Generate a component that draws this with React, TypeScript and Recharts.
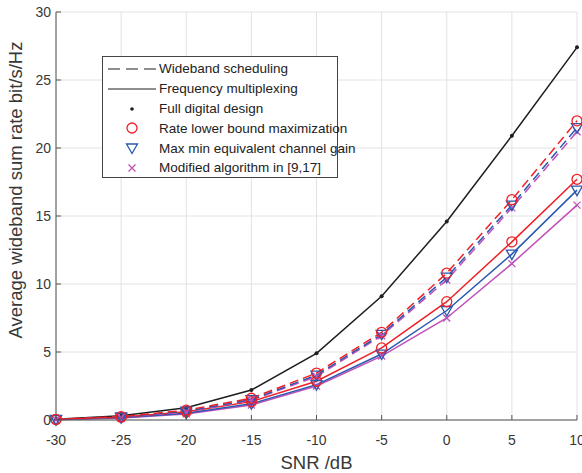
import React from 'react';
import { LineChart, Line, XAxis, YAxis, CartesianGrid } from 'recharts';

const SNR = [-30, -25, -20, -15, -10, -5, 0, 5, 10];
const FULL_DIGITAL = [0.05, 0.32, 0.9, 2.2, 4.9, 9.1, 14.6, 20.9, 27.4];
const RATE_WB = [0.05, 0.25, 0.72, 1.6, 3.45, 6.45, 10.8, 16.2, 22.0];
const MAXMIN_WB = [0.04, 0.22, 0.65, 1.5, 3.3, 6.3, 10.5, 15.8, 21.5];
const MOD_WB = [0.04, 0.2, 0.6, 1.45, 3.2, 6.2, 10.3, 15.6, 21.2];
const RATE_FM = [0.03, 0.2, 0.6, 1.35, 2.85, 5.3, 8.7, 13.1, 17.7];
const MAXMIN_FM = [0.03, 0.17, 0.5, 1.2, 2.6, 4.85, 8.05, 12.2, 16.9];
const MOD_FM = [0.02, 0.15, 0.45, 1.1, 2.5, 4.7, 7.5, 11.5, 15.8];

const X_TICKS = [-30, -25, -20, -15, -10, -5, 0, 5, 10];
const Y_TICKS = [0, 5, 10, 15, 20, 25, 30];

const LEGEND_ITEMS = [
  'Wideband scheduling',
  'Frequency multiplexing',
  'Full digital design',
  'Rate lower bound maximization',
  'Max min equivalent channel gain',
  'Modified algorithm in [9,17]',
];

const W = 582;
const H = 473;
const FONT = '"Liberation Sans", Arial, Helvetica, sans-serif';
const TEXT = '#383838';
const AXIS = '#555555';
const RED = '#ee2026';
const BLUE = '#2a59b0';
const MAGENTA = '#c050b8';
const BLACK = '#1e1e1e';
const DASH = '9 5';
const TICK_LEN = 5;

const data = SNR.map((snr, i) => ({
  snr,
  full: FULL_DIGITAL[i],
  rateWB: RATE_WB[i],
  maxminWB: MAXMIN_WB[i],
  modWB: MOD_WB[i],
  rateFM: RATE_FM[i],
  maxminFM: MAXMIN_FM[i],
  modFM: MOD_FM[i],
}));

// markers
const circleDot = (p: any) => (
  <circle key={p.key} cx={p.cx} cy={p.cy} r={5} fill="none" stroke={RED} strokeWidth={1.3} />
);
const triDot = (p: any) => (
  <path key={p.key} d={`M${p.cx - 5.5},${p.cy - 4} L${p.cx + 5.5},${p.cy - 4} L${p.cx},${p.cy + 5.5} Z`}
    fill="none" stroke={BLUE} strokeWidth={1.3} />
);
const crossDot = (p: any) => (
  <path key={p.key} d={`M${p.cx - 3.5},${p.cy - 3.5} L${p.cx + 3.5},${p.cy + 3.5} M${p.cx - 3.5},${p.cy + 3.5} L${p.cx + 3.5},${p.cy - 3.5}`}
    stroke={MAGENTA} strokeWidth={1.3} />
);
const blackDot = (p: any) => (
  <circle key={p.key} cx={p.cx} cy={p.cy} r={2} fill={BLACK} />
);

// inward ticks for the boxed axes
const BottomTick = (p: any) => (
  <g>
    <line x1={p.x} x2={p.x} y1={p.y} y2={p.y - TICK_LEN} stroke={AXIS} />
    <text x={p.x} y={p.y + 25} textAnchor="middle" fill={TEXT} fontSize={14} fontFamily={FONT}>
      {p.payload.value}
    </text>
  </g>
);
const TopTick = (p: any) => (
  <line x1={p.x} x2={p.x} y1={p.y} y2={p.y + TICK_LEN} stroke={AXIS} />
);
const LeftTick = (p: any) => (
  <g>
    <line x1={p.x} x2={p.x + TICK_LEN} y1={p.y} y2={p.y} stroke={AXIS} />
    <text x={p.x - 5} y={p.y + 5} textAnchor="end" fill={TEXT} fontSize={14} fontFamily={FONT}>
      {p.payload.value}
    </text>
  </g>
);
const RightTick = (p: any) => (
  <line x1={p.x} x2={p.x - TICK_LEN} y1={p.y} y2={p.y} stroke={AXIS} />
);

const YLabel = () => (
  <text x={22} y={190} transform="rotate(-90 22 190)" textAnchor="middle" fill={TEXT} fontSize={18.5} fontFamily={FONT}>
    Average wideband sum rate bit/s/Hz
  </text>
);

function LegendSample({ i }: { i: number }) {
  return (
    <svg width={50} height={20} style={{ display: 'block' }}>
      {i === 0 && <line x1={1} x2={49} y1={10} y2={10} stroke={BLACK} strokeWidth={1.2} strokeDasharray="12 6" />}
      {i === 1 && <line x1={1} x2={49} y1={10} y2={10} stroke={BLACK} strokeWidth={1.2} />}
      {i === 2 && <circle cx={25} cy={10} r={1.8} fill={BLACK} />}
      {i === 3 && <circle cx={25} cy={10} r={5} fill="none" stroke={RED} strokeWidth={1.3} />}
      {i === 4 && <path d="M19.5,6 L30.5,6 L25,15.5 Z" fill="none" stroke={BLUE} strokeWidth={1.3} />}
      {i === 5 && <path d="M21.5,6.5 L28.5,13.5 M21.5,13.5 L28.5,6.5" stroke={MAGENTA} strokeWidth={1.3} />}
    </svg>
  );
}

export default function App() {
  return (
    <div style={{ position: 'relative', width: W, height: H, background: '#fff' }}>
      <style>{'body{margin:0}'}</style>
      <LineChart width={W} height={H} data={data} margin={{ top: 12, right: 5, bottom: 0, left: 0 }}>
        <CartesianGrid stroke="#e2e2e2" horizontalValues={Y_TICKS} verticalValues={X_TICKS} />
        <XAxis dataKey="snr" type="number" domain={[-30, 10]} ticks={X_TICKS} height={53}
          tickSize={0} tickMargin={0} tickLine={false} axisLine={{ stroke: AXIS }} tick={<BottomTick />}
          interval={0}
          label={{ value: 'SNR /dB', position: 'insideBottom', offset: 4, fill: TEXT, fontSize: 18.5, fontFamily: FONT }} />
        <XAxis xAxisId="top" orientation="top" dataKey="snr" type="number" domain={[-30, 10]} ticks={X_TICKS}
          height={0} tickSize={0} tickMargin={0} tickLine={false} axisLine={{ stroke: AXIS }} tick={<TopTick />} interval={0} />
        <YAxis type="number" domain={[0, 30]} ticks={Y_TICKS} width={56} tickSize={0} tickMargin={0}
          tickLine={false} axisLine={{ stroke: AXIS }} tick={<LeftTick />} interval={0} label={<YLabel />} />
        <YAxis yAxisId="right" orientation="right" type="number" domain={[0, 30]} ticks={Y_TICKS} width={0}
          tickSize={0} tickMargin={0} tickLine={false} axisLine={{ stroke: AXIS }} tick={<RightTick />} interval={0} />

        <Line dataKey="full" stroke={BLACK} strokeWidth={1.5} dot={blackDot} isAnimationActive={false} />
        <Line dataKey="modFM" stroke={MAGENTA} strokeWidth={1.5} dot={crossDot} isAnimationActive={false} />
        <Line dataKey="maxminFM" stroke={BLUE} strokeWidth={1.5} dot={triDot} isAnimationActive={false} />
        <Line dataKey="rateFM" stroke={RED} strokeWidth={1.5} dot={circleDot} isAnimationActive={false} />
        <Line dataKey="modWB" stroke={MAGENTA} strokeWidth={1.5} strokeDasharray={DASH} dot={crossDot} isAnimationActive={false} />
        <Line dataKey="maxminWB" stroke={BLUE} strokeWidth={1.5} strokeDasharray={DASH} dot={triDot} isAnimationActive={false} />
        <Line dataKey="rateWB" stroke={RED} strokeWidth={1.5} strokeDasharray={DASH} dot={circleDot} isAnimationActive={false} />
      </LineChart>

      <div style={{
        position: 'absolute', left: 102, top: 56, width: 236, height: 122,
        border: '1px solid #444', background: '#fff', paddingTop: 2, boxSizing: 'border-box',
        fontFamily: FONT, fontSize: 13.5, color: '#222',
      }}>
        {LEGEND_ITEMS.map((label, i) => (
          <div key={label} style={{ display: 'flex', alignItems: 'center', height: 19.8 }}>
            <div style={{ marginLeft: 4, marginRight: 2 }}><LegendSample i={i} /></div>
            <span style={{ whiteSpace: 'nowrap' }}>{label}</span>
          </div>
        ))}
      </div>
    </div>
  );
}
